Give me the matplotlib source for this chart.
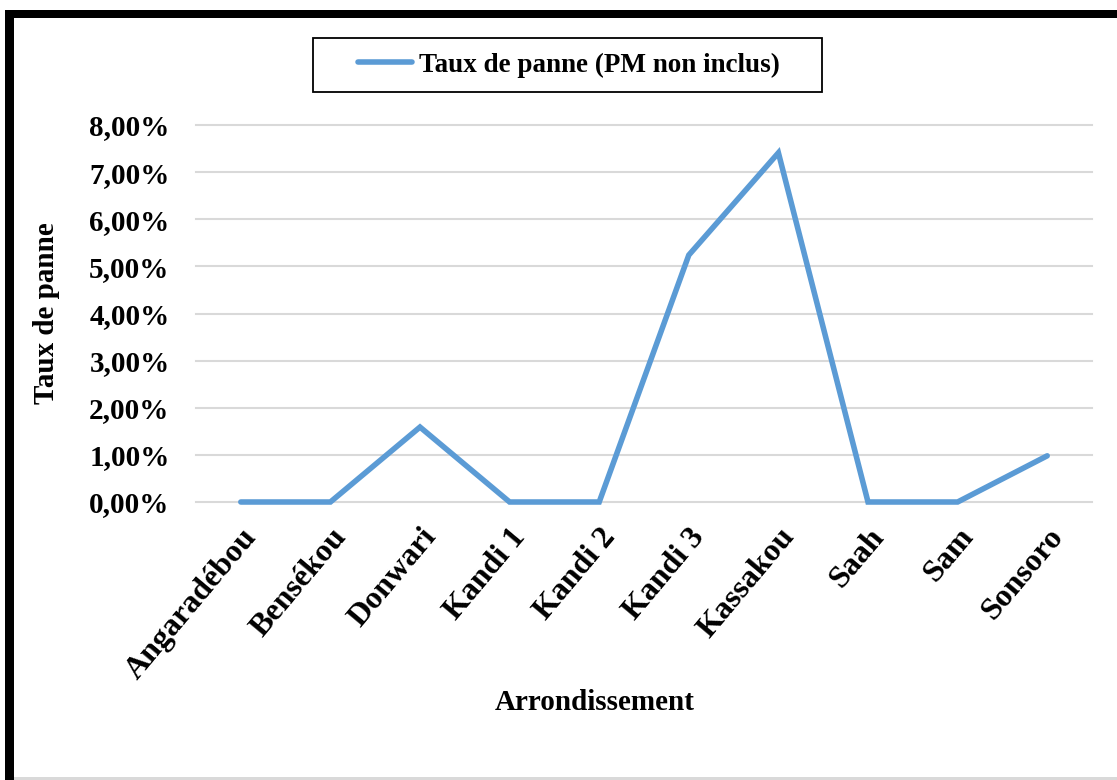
import matplotlib
matplotlib.use("Agg")
import matplotlib.pyplot as plt
from matplotlib.patches import Rectangle
from matplotlib.ticker import FuncFormatter

# données
arrondissements = ["Angaradébou", "Bensékou", "Donwari", "Kandi 1", "Kandi 2",
                   "Kandi 3", "Kassakou", "Saah", "Sam", "Sonsoro"]
taux_panne = [0.0, 0.0, 0.0159, 0.0, 0.0, 0.0524, 0.0741, 0.0, 0.0, 0.0098]
y_ticks = [0.0, 0.01, 0.02, 0.03, 0.04, 0.05, 0.06, 0.07, 0.08]
serie_label = "Taux de panne (PM non inclus)"

plt.rcParams['font.family'] = ['Liberation Serif', 'DejaVu Serif']
plt.rcParams['font.weight'] = 'bold'

W, H = 1117, 780
fig = plt.figure(figsize=(W / 100, H / 100), dpi=100)
ax = fig.add_axes([196 / W, 1 - 502 / H, (1092 - 196) / W, (502 - 125) / H])

x = list(range(len(arrondissements)))
ax.plot(x, taux_panne, color='#5B9BD5', linewidth=4.0, solid_capstyle='round',
        solid_joinstyle='miter', label=serie_label, clip_on=False, zorder=3)

ax.set_xlim(-0.5, len(arrondissements) - 0.5)
ax.set_ylim(0, 0.08)
ax.set_yticks(y_ticks)
ax.yaxis.set_major_formatter(FuncFormatter(lambda v, p: f"{v * 100:.2f}%".replace('.', ',')))
ax.set_xticks(x)
ax.set_xticklabels(arrondissements, rotation=50, ha='right', rotation_mode='anchor')
ax.tick_params(axis='y', length=0, labelsize=21, pad=19)
ax.tick_params(axis='x', length=0, labelsize=23, pad=15)
for t in ax.get_xticklabels() + ax.get_yticklabels():
    t.set_fontweight('bold')

ax.grid(axis='y', color='#D9D9D9', linewidth=1.5, clip_on=False)
ax.set_axisbelow(True)
for s in ax.spines.values():
    s.set_visible(False)

ax.set_ylabel("Taux de panne", fontsize=21, fontweight='bold')
ax.set_xlabel("Arrondissement", fontsize=21, fontweight='bold')
ax.xaxis.set_label_coords(0.445, -0.497)
ax.yaxis.set_label_coords(-0.152, 0.5)

# légende sans cadre, le cadre est dessiné à part
leg = fig.legend(loc='center left', bbox_to_anchor=(358 / W, 1 - 65 / H), fontsize=19.5,
                 frameon=False, handlelength=2.0, handletextpad=0.25,
                 borderpad=0, borderaxespad=0)
for t in leg.get_texts():
    t.set_fontweight('bold')
fig.add_artist(Rectangle((313 / W, 1 - 92 / H), (822 - 313) / W, 54 / H,
                         transform=fig.transFigure, facecolor='none',
                         edgecolor='black', linewidth=1.3))

# cadre noir en haut et à gauche, trait gris en bas
fig.add_artist(Rectangle((5 / W, 0), 9 / W, 1 - 10 / H, transform=fig.transFigure,
                         facecolor='black', edgecolor='none'))
fig.add_artist(Rectangle((5 / W, 1 - 18 / H), 1, 8 / H, transform=fig.transFigure,
                         facecolor='black', edgecolor='none'))
fig.add_artist(Rectangle((14 / W, 0), 1, 3 / H, transform=fig.transFigure,
                         facecolor='#D9D9D9', edgecolor='none'))

fig.savefig("out.png", dpi=100)
